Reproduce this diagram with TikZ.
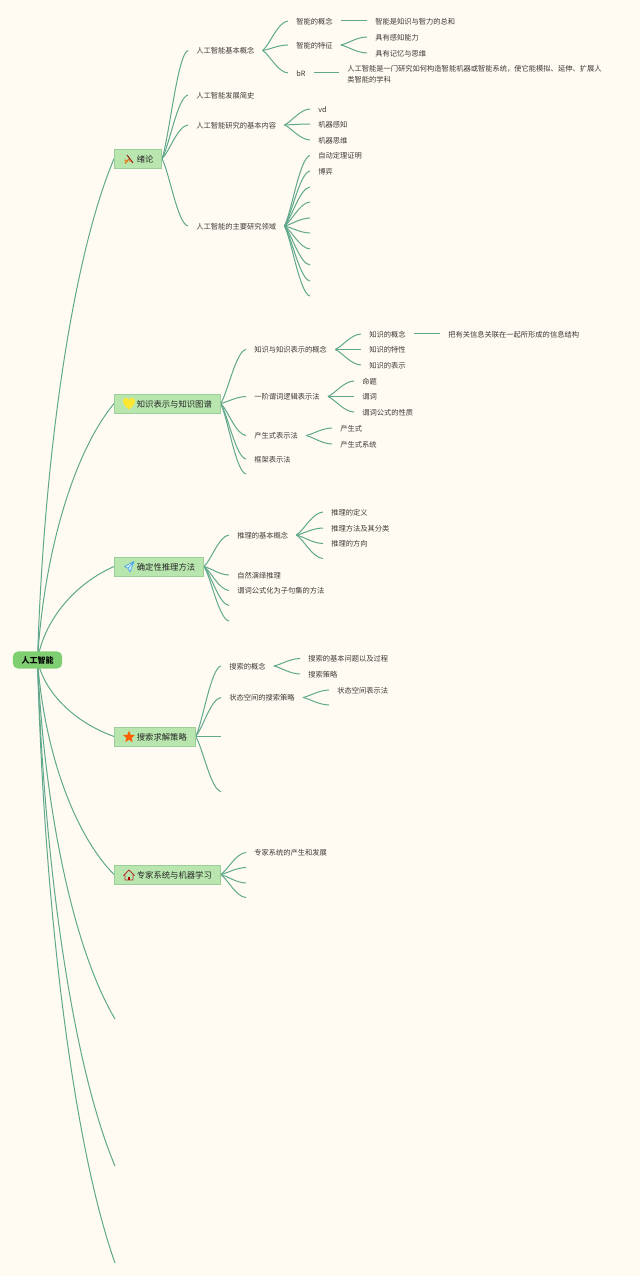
\documentclass[tikz,border=0pt]{standalone}
\usepackage{fontspec}
\setmainfont{Noto Sans CJK SC}
\usetikzlibrary{calc,backgrounds,shapes.geometric}
\definecolor{bgc}{HTML}{FFFBF3}
\definecolor{linec}{HTML}{5FA88C}
\definecolor{topicf}{HTML}{B9E6AE}
\definecolor{topicd}{HTML}{9CCF98}
\definecolor{rootf}{HTML}{7FCF72}
\definecolor{txt}{HTML}{3A3A36}
\tikzset{
  leaf/.style={anchor=west,inner xsep=6pt,inner ysep=0pt,text height=6pt,text depth=.8pt,font=\fontsize{5.45pt}{7.9pt}\selectfont,text=txt,align=left},
  para/.style={anchor=west,inner xsep=6pt,inner ysep=0pt,font=\fontsize{5.45pt}{7.9pt}\selectfont,text=txt,align=left},
  topic/.style={anchor=west,draw=topicd,fill=topicf,line width=.5pt,minimum height=14pt,inner ysep=0pt,inner xsep=0pt,text height=6.75pt,text depth=1pt,font=\fontsize{6.25pt}{8pt}\selectfont,text=black!85},
  rootbox/.style={draw=none,fill=rootf,rounded corners=4pt,minimum height=13pt,minimum width=37pt,inner sep=0pt,font=\fontsize{6pt}{8pt}\selectfont\bfseries,text=black},
  conn/.style={draw=linec,line width=.75pt},
  branch/.style={to path={let \p1=(\tikztostart),\p2=(\tikztotarget) in
    .. controls ({\x1+.28*(\x2-\x1)},{\y1+.2*(\y2-\y1)}) and ({\x1+.6*(\x2-\x1)},{\y1+.97*(\y2-\y1)}) .. (\tikztotarget)}},
  rootcurve/.style={to path={let \p1=(\tikztostart),\p2=(\tikztotarget) in
    .. controls ({\x1+.08*(\x2-\x1)},{\y1+.4*(\y2-\y1)}) and ({\x1+.45*(\x2-\x1)},{\y1+.8*(\y2-\y1)}) .. (\tikztotarget)}},
}
\newcommand\lf[4]{\node[leaf] (#1) at (#2,#3) {#4};}
\newcommand\tp[5]{\node[topic,text width=#4,align=left] (#1) at (114,#3) {\hspace*{16.9pt}#5};}
\newcommand\cnn[2]{\foreach \c in {#2}{\draw[conn] (#1.east) to[branch] (\c.west);}}
\newcommand\cnf[2]{\foreach \c in {#2}{\draw[conn] (#1.east) to[branch] (\c);}}
\begin{document}
\begin{tikzpicture}[x=.75pt,y=-.75pt]
\useasboundingbox (0,0) rectangle (640,1276);
% root
\node[rootbox] (root) at (37.5,660) {人工智能};
% topics
\tp{t1}{114}{158.7}{35.5pt}{绪论}
\tp{t2}{114}{403.5}{79.5pt}{知识表示与知识图谱}
\tp{t3}{114}{566.5}{67pt}{确定性推理方法}
\tp{t4}{114}{736.5}{60.7pt}{搜索求解策略}
\tp{t5}{114}{874.5}{79.5pt}{专家系统与机器学习}
% free ends of the root
\coordinate (r6) at (115,1019);
\coordinate (r7) at (115,1166);
\coordinate (r8) at (115,1263);
% topic 1
\lf{a1}{188}{50.5}{人工智能基本概念}
\lf{a2}{188}{95}{人工智能发展简史}
\lf{a3}{188}{125}{人工智能研究的基本内容}
\lf{a4}{188}{226}{人工智能的主要研究领域}
\lf{a11}{288}{21}{智能的概念}
\lf{a12}{288}{45}{智能的特征}
\lf{a13}{288}{73}{bR}
\lf{a111}{367}{21}{智能是知识与智力的总和}
\lf{a121}{367}{37}{具有感知能力}
\lf{a122}{367}{53}{具有记忆与思维}
\node[para] (a131) at (339,74) {人工智能是一门研究如何构造智能机器或智能系统，使它能模拟、延伸、扩展人\\类智能的学科};
\lf{a31}{310}{109}{vd}
\lf{a32}{310}{124}{机器感知}
\lf{a33}{310}{140}{机器思维}
\lf{a41}{310}{155.5}{自动定理证明}
\lf{a42}{310}{171}{博弈}
\foreach \n/\y in {a43/187,a44/202,a45/218,a46/233,a47/249,a48/265,a49/281,a410/296}{\coordinate (\n) at (310,\y);}
% topic 2
\lf{b1}{246}{349.5}{知识与知识表示的概念}
\lf{b2}{246}{396.5}{一阶谓词逻辑表示法}
\lf{b3}{246}{435.5}{产生式表示法}
\lf{b4}{246}{459}{框架表示法}
\coordinate (b5) at (246,474);
\lf{b11}{361}{334}{知识的概念}
\lf{b12}{361}{349.5}{知识的特性}
\lf{b13}{361}{365}{知识的表示}
\lf{b111}{440}{334}{把有关信息关联在一起所形成的信息结构}
\lf{b21}{354}{381}{命题}
\lf{b22}{354}{396.5}{谓词}
\lf{b23}{354}{412}{谓词公式的性质}
\lf{b31}{332}{428}{产生式}
\lf{b32}{332}{444}{产生式系统}
% topic 3
\lf{c1}{229}{535}{推理的基本概念}
\lf{c2}{229}{575}{自然演绎推理}
\lf{c3}{229}{590.5}{谓词公式化为子句集的方法}
\coordinate (c4) at (229,605.5);
\coordinate (c5) at (229,621);
\lf{c11}{323}{512}{推理的定义}
\lf{c12}{323}{528}{推理方法及其分类}
\lf{c13}{323}{543.5}{推理的方向}
\coordinate (c14) at (323,558.5);
% topic 4
\lf{d1}{221}{666}{搜索的概念}
\lf{d2}{221}{697.5}{状态空间的搜索策略}
\coordinate (d3) at (221,736.5);
\coordinate (d4) at (221,791.5);
\lf{d11}{300}{658.5}{搜索的基本问题以及过程}
\lf{d12}{300}{674}{搜索策略}
\lf{d21}{329}{690}{状态空间表示法}
\coordinate (d22) at (329,705);
% topic 5
\lf{e1}{246}{852.5}{专家系统的产生和发展}
\foreach \n/\y in {e2/867.5,e3/883,e4/897.5}{\coordinate (\n) at (246,\y);}
% icons
\draw[line width=.8pt,draw=orange!85!black] (125,163.5) -- (129.5,158.5);
\draw[line width=.8pt,draw=red!55!black!85] (127,155) -- (133,163);
\fill[orange!80!red] (125.5,160.5) circle (1) (130,161) circle (.9);
\fill[yellow!85!orange!80!white] (129,409.5) .. controls (124,405.5) and (122.7,402.5) .. (123,400.5) .. controls (123.5,397.5) and (127.5,397) .. (129,400) .. controls (130.5,397) and (134.5,397.5) .. (135,400.5) .. controls (135.3,402.5) and (134,405.5) .. (129,409.5) -- cycle;
\draw[draw=cyan!75!blue!70,line width=.6pt,line join=round,fill=cyan!12] (134,561.5) -- (124.5,566.5) -- (128,568.3) -- (130,572) -- cycle (128,568.3) -- (134,561.5);
\node[star,star points=5,star point ratio=2.3,fill=orange!75!red,inner sep=0pt,minimum size=9.5pt] (iconstar) at (129,737) {};
\draw[draw=red!65!black!80,line width=.6pt,line join=round] (123.5,875.5) -- (129,870) -- (134.5,875.5) (125,874.5) -- (125,880) -- (133,880) -- (133,874.5);
\fill[red!70!black] (127.7,880) rectangle (130.3,876.5);
% connectors
\begin{pgfonlayer}{background}
\fill[bgc] (0,0) rectangle (640,1276);
\foreach \c in {t1,t2,t3,t4,t5}{\draw[conn] (root.center) to[rootcurve] (\c.west);}
\foreach \c in {r6,r7,r8}{\draw[conn] (root.center) to[rootcurve] (\c);}
\cnn{t1}{a1,a2,a3,a4}
\cnn{a1}{a11,a12,a13}
\draw[conn] (a11.east) -- (a111.west);
\cnn{a12}{a121,a122}
\draw[conn] (a13.east) -- (a13.east -| a131.west);
\cnn{a3}{a31,a32,a33}
\cnn{a4}{a41,a42}
\cnf{a4}{a43,a44,a45,a46,a47,a48,a49,a410}
\cnn{t2}{b1,b2,b3,b4}
\cnf{t2}{b5}
\cnn{b1}{b11,b13}
\draw[conn] (b1.east) -- (b12.west);
\draw[conn] (b11.east) -- (b111.west);
\cnn{b2}{b21,b23}
\draw[conn] (b2.east) -- (b22.west);
\cnn{b3}{b31,b32}
\cnn{t3}{c1,c2,c3}
\cnf{t3}{c4,c5}
\cnn{c1}{c11,c12,c13}
\cnf{c1}{c14}
\cnn{t4}{d1,d2}
\draw[conn] (t4.east) -- (d3);
\cnf{t4}{d4}
\cnn{d1}{d11,d12}
\cnn{d2}{d21}
\cnf{d2}{d22}
\cnn{t5}{e1}
\cnf{t5}{e2,e3,e4}
\end{pgfonlayer}
\end{tikzpicture}
\end{document}
